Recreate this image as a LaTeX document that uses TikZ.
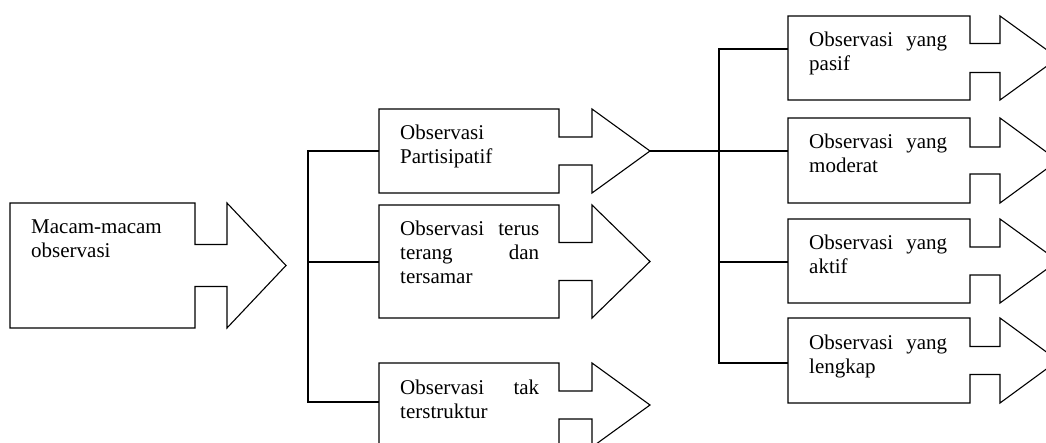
\documentclass[tikz,border=0pt]{standalone}
\usepackage{fontspec}
\setmainfont{Liberation Serif}

% lines of a label: first baseline is the box baseline
\newcommand\labellines[1]{\vtop{\baselineskip=24pt\lineskiplimit=-100pt\lineskip=0pt #1}}

% right-arrow callout: (name) left,top,bottom,body right,shaft half height,head base,tip x; text
\def\calloutbox(#1)#2,#3,#4,#5,#6,#7,#8;#9{%
  \pgfmathsetmacro\mY{(#3+#4)/2}%
  \pgfmathsetmacro\uY{\mY-#6}%
  \pgfmathsetmacro\lY{\mY+#6}%
  \draw[outline] (#2,#3) -- (#5,#3) -- (#5,\uY) -- (#7,\uY) -- (#7,#3)
    -- (#8,\mY) -- (#7,#4) -- (#7,\lY) -- (#5,\lY) -- (#5,#4) -- (#2,#4) -- cycle;
  \coordinate (#1-tip) at (#8,\mY);
  \node[labeltext] (#1) at (#2+21,#3+31) {\labellines{#9}};
}

\begin{document}
\begin{tikzpicture}[x=1pt,y=-1pt,
  outline/.style={draw=black,line width=1.1pt,fill=white},
  link/.style={draw=black,line width=1.1pt},
  labeltext/.style={anchor=base west,inner sep=0pt,font=\fontsize{21}{24}\selectfont}]
\useasboundingbox (0,0) rectangle (1046,443);
\clip (0,0) rectangle (1046,443);

% first level
\calloutbox(macam)10,203,328,195,21,227,286;{\hbox{Macam-macam}\hbox{observasi}}

% second level
\calloutbox(partisipatif)379,109,193,559,14,592,650;{\hbox{Observasi}\hbox{Partisipatif}}
\calloutbox(terus)379,205,318,559,19,592,650;{\hbox to 139pt{Observasi\hfill terus}\hbox to 139pt{terang\hfill dan}\hbox{tersamar}}
\calloutbox(takstruktur)379,363,447,559,14,592,650;{\hbox to 139pt{Observasi\hfill tak}\hbox{terstruktur}}

% third level
\calloutbox(pasif)788,16,100,970,14.5,1000,1058;{\hbox to 138pt{Observasi\hfill yang}\hbox{pasif}}
\calloutbox(moderat)788,118,203,970,13.5,1000,1058;{\hbox to 138pt{Observasi\hfill yang}\hbox{moderat}}
\calloutbox(aktif)788,219,303,970,14,1000,1058;{\hbox to 138pt{Observasi\hfill yang}\hbox{aktif}}
\calloutbox(lengkap)788,318,403,970,14,1000,1058;{\hbox to 138pt{Observasi\hfill yang}\hbox{lengkap}}

% connector entry points
\coordinate (partisipatif-in) at (379,151);
\coordinate (terus-in) at (379,262);
\coordinate (takstruktur-in) at (379,402);
\coordinate (pasif-in) at (788,49);
\coordinate (moderat-in) at (788,151);
\coordinate (aktif-in) at (788,262);
\coordinate (lengkap-in) at (788,363);

% left bracket
\draw[link] (partisipatif-in) -- ++(-71,0) coordinate (busL) |- (takstruktur-in);
\draw[link] (busL |- terus-in) -- (terus-in);

% right bracket
\draw[link] (partisipatif-tip) -- (moderat-in);
\draw[link] (pasif-in) -- ++(-69,0) coordinate (busR) |- (lengkap-in);
\draw[link] (busR |- aktif-in) -- (aktif-in);
\end{tikzpicture}
\end{document}
